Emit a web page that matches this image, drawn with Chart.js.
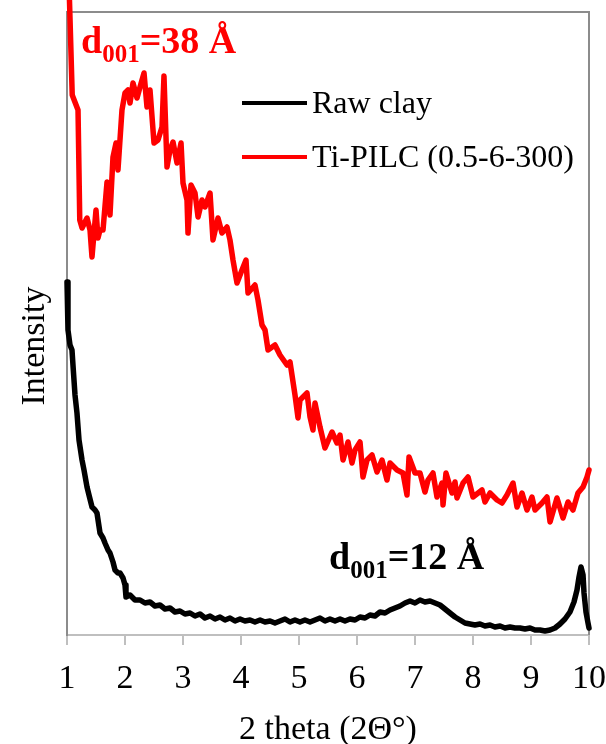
<!DOCTYPE html>
<html lang="en">
<head>
    <meta charset="UTF-8">
    <title>XRD patterns</title>
    <script src="https://cdn.jsdelivr.net/npm/chart.js"></script>
    <style>
        body {
            margin: 0;
            padding: 0;
            background: #ffffff;
        }
        .wrap {
            width: 606px;
            height: 744px;
        }
    </style>
</head>
<body>

<div class="wrap">
    <canvas id="xrdChart" width="606" height="744"></canvas>
</div>

<script>
    // Raw clay: 2 theta (deg) and intensity (arbitrary units)
    const rawTheta = [1.000, 1.017, 1.052, 1.086, 1.103, 1.138, 1.172, 1.207, 1.259, 1.293, 1.345, 1.379,
        1.431, 1.483, 1.517, 1.569, 1.621, 1.655, 1.707, 1.741, 1.793, 1.828, 1.879, 1.914, 1.966, 2.000,
        2.017, 2.086, 2.172, 2.259, 2.345, 2.431, 2.517, 2.603, 2.690, 2.776, 2.862, 2.948, 3.034, 3.121,
        3.207, 3.293, 3.379, 3.466, 3.552, 3.638, 3.724, 3.810, 3.897, 3.983, 4.069, 4.155, 4.241, 4.328,
        4.414, 4.500, 4.586, 4.672, 4.759, 4.845, 4.931, 5.017, 5.103, 5.190, 5.276, 5.362, 5.448, 5.534,
        5.621, 5.707, 5.793, 5.879, 5.966, 6.052, 6.138, 6.224, 6.310, 6.397, 6.483, 6.569, 6.655, 6.741,
        6.828, 6.914, 7.000, 7.086, 7.172, 7.259, 7.345, 7.431, 7.517, 7.603, 7.690, 7.776, 7.862, 7.948,
        8.034, 8.121, 8.207, 8.293, 8.379, 8.466, 8.552, 8.638, 8.724, 8.810, 8.897, 8.983, 9.069, 9.155,
        9.241, 9.328, 9.414, 9.500, 9.586, 9.672, 9.741, 9.793, 9.828, 9.862, 9.897, 9.914, 9.948, 9.983,
        10.000];
    const rawIntensity = [353, 305, 290, 285, 270, 240, 222, 195, 175, 165, 148, 140,
        128, 125, 122, 102, 97, 92, 85, 82, 73, 65, 62, 62, 57, 50,
        38, 40, 35, 35, 32, 33, 29, 30, 26, 27, 23, 24, 21, 22,
        19, 21, 17, 19, 16, 18, 15, 17, 14, 16, 14, 15, 13, 15,
        13, 14, 12, 14, 16, 13, 15, 13, 15, 13, 15, 17, 14, 16,
        14, 16, 14, 16, 15, 18, 17, 20, 19, 23, 22, 25, 27, 29,
        32, 34, 32, 35, 33, 34, 32, 30, 26, 22, 18, 15, 12, 11,
        10, 11, 9, 10, 8, 9, 7, 8, 7, 7, 6, 7, 5, 5,
        4, 5, 7, 11, 16, 23, 33, 45, 58, 68, 60, 42, 23, 12,
        7];

    // Ti-PILC (0.5-6-300)
    const pilcTheta = [1.000, 1.040, 1.090, 1.190, 1.220, 1.260, 1.345, 1.397, 1.431, 1.500, 1.534, 1.569,
        1.621, 1.690, 1.741, 1.793, 1.845, 1.879, 1.948, 2.000, 2.052, 2.086, 2.138, 2.207, 2.259, 2.328,
        2.379, 2.431, 2.500, 2.569, 2.638, 2.672, 2.724, 2.776, 2.828, 2.897, 2.966, 3.000, 3.069, 3.086,
        3.138, 3.207, 3.259, 3.328, 3.379, 3.466, 3.517, 3.603, 3.672, 3.759, 3.810, 3.862, 3.931, 4.017,
        4.086, 4.121, 4.241, 4.293, 4.362, 4.414, 4.466, 4.586, 4.672, 4.793, 4.845, 4.931, 4.983, 5.017,
        5.138, 5.190, 5.241, 5.276, 5.362, 5.448, 5.569, 5.655, 5.707, 5.759, 5.845, 5.914, 5.966, 6.052,
        6.103, 6.172, 6.259, 6.345, 6.431, 6.517, 6.569, 6.690, 6.793, 6.862, 6.897, 7.000, 7.086, 7.172,
        7.224, 7.310, 7.379, 7.466, 7.483, 7.534, 7.638, 7.690, 7.724, 7.828, 7.914, 8.000, 8.155, 8.207,
        8.293, 8.414, 8.500, 8.586, 8.690, 8.759, 8.845, 8.931, 9.017, 9.069, 9.190, 9.276, 9.328, 9.448,
        9.552, 9.638, 9.724, 9.810, 9.897, 9.966, 10.000];
    const pilcIntensity = [740, 640, 540, 525, 415, 407, 417, 405, 378, 425, 397, 405,
        405, 453, 420, 478, 492, 465, 525, 542, 545, 532, 552, 537, 548, 562,
        528, 545, 492, 495, 508, 559, 468, 485, 493, 472, 492, 452, 435, 402,
        450, 442, 418, 435, 428, 442, 395, 417, 402, 408, 395, 375, 352, 365,
        375, 342, 350, 335, 310, 305, 285, 290, 280, 270, 273, 240, 217, 235,
        242, 218, 205, 232, 208, 187, 203, 192, 200, 175, 193, 172, 185, 193,
        158, 175, 180, 163, 175, 155, 172, 165, 162, 140, 178, 162, 162, 143,
        155, 162, 138, 152, 130, 162, 142, 153, 137, 152, 158, 138, 145, 133,
        142, 135, 132, 140, 152, 128, 142, 125, 138, 125, 132, 138, 113, 137,
        117, 133, 125, 142, 148, 158, 165];

    const xTicks = [1, 2, 3, 4, 5, 6, 7, 8, 9, 10];
    const seriesNames = ['Raw clay', 'Ti-PILC (0.5-6-300)'];
    const seriesColors = ['#000000', '#ff0000'];

    const toPoints = (xs, ys) => xs.map((x, i) => ({x: x, y: ys[i]}));

    // plot frame, legend and peak labels, placed like the original figure
    const decorPlugin = {
        id: 'decor',
        beforeDatasetsDraw(chart) {
            const {ctx, chartArea: a} = chart;
            ctx.save();
            ctx.strokeStyle = '#8c8c8c';
            ctx.lineWidth = 2;
            ctx.beginPath();
            ctx.moveTo(a.left, a.bottom);
            ctx.lineTo(a.left, a.top);
            ctx.lineTo(a.right, a.top);
            ctx.lineTo(a.right, a.bottom);
            ctx.stroke();
            ctx.restore();
        },
        afterDraw(chart) {
            const ctx = chart.ctx;
            ctx.save();

            // legend
            ctx.lineWidth = 4;
            ctx.font = '32px "Liberation Serif"';
            ctx.textBaseline = 'alphabetic';
            const rows = [{y: 103, base: 113}, {y: 157, base: 167}];
            rows.forEach((r, i) => {
                ctx.strokeStyle = seriesColors[i];
                ctx.beginPath();
                ctx.moveTo(242, r.y);
                ctx.lineTo(307, r.y);
                ctx.stroke();
                ctx.fillStyle = '#000';
                ctx.fillText(seriesNames[i], 312, r.base);
            });

            // d-spacing labels
            function dLabel(x, y, value, color) {
                ctx.fillStyle = color;
                ctx.font = 'bold 38px "Liberation Serif"';
                ctx.fillText('d', x, y);
                let w = ctx.measureText('d').width;
                ctx.font = 'bold 25px "Liberation Serif"';
                ctx.fillText('001', x + w, y + 9);
                w += ctx.measureText('001').width;
                ctx.font = 'bold 38px "Liberation Serif"';
                ctx.fillText('=' + value + ' Å', x + w, y);
            }
            dLabel(81, 53, '38', '#ff0000');
            dLabel(329, 569, '12', '#000000');

            // y axis title
            ctx.fillStyle = '#000';
            ctx.font = '34px "Liberation Serif"';
            ctx.translate(44, 346);
            ctx.rotate(-Math.PI / 2);
            ctx.textAlign = 'center';
            ctx.fillText('Intensity', 0, 0);
            ctx.restore();
        }
    };

    new Chart(document.getElementById('xrdChart'), {
        type: 'line',
        data: {
            datasets: [{
                label: seriesNames[1],
                data: toPoints(pilcTheta, pilcIntensity),
                borderColor: seriesColors[1],
                borderWidth: 5.5,
                pointRadius: 0,
                tension: 0,
                borderJoinStyle: 'round',
                borderCapStyle: 'round',
                clip: false
            }, {
                label: seriesNames[0],
                data: toPoints(rawTheta, rawIntensity),
                borderColor: seriesColors[0],
                borderWidth: 5.5,
                pointRadius: 0,
                tension: 0,
                borderJoinStyle: 'round',
                borderCapStyle: 'round',
                clip: false
            }]
        },
        options: {
            responsive: false,
            animation: false,
            layout: {padding: {top: 12, right: 0, left: 0, bottom: 0}},
            plugins: {
                legend: {display: false},
                tooltip: {enabled: false}
            },
            scales: {
                x: {
                    type: 'linear',
                    min: 1,
                    max: 10,
                    afterFit: s => {
                        s.height = 109;
                        s.paddingLeft = 0;
                        s.paddingRight = 17;
                    },
                    afterBuildTicks: s => { s.ticks = xTicks.map(v => ({value: v})); },
                    ticks: {
                        color: '#000',
                        padding: 14,
                        font: {family: 'Liberation Serif', size: 34}
                    },
                    grid: {
                        drawOnChartArea: false,
                        drawTicks: true,
                        tickLength: 10,
                        color: '#bfbfbf',
                        lineWidth: 2
                    },
                    border: {color: '#bfbfbf', width: 2},
                    title: {
                        display: true,
                        text: '2 theta (2Θ°)',
                        color: '#000',
                        padding: {top: 0, bottom: -6},
                        font: {family: 'Liberation Serif', size: 34}
                    }
                },
                y: {
                    min: 0,
                    max: 623,
                    afterFit: s => { s.width = 67; },
                    ticks: {display: false},
                    grid: {display: false},
                    border: {color: '#8c8c8c', width: 2}
                }
            }
        },
        plugins: [decorPlugin]
    });
</script>

</body>
</html>
